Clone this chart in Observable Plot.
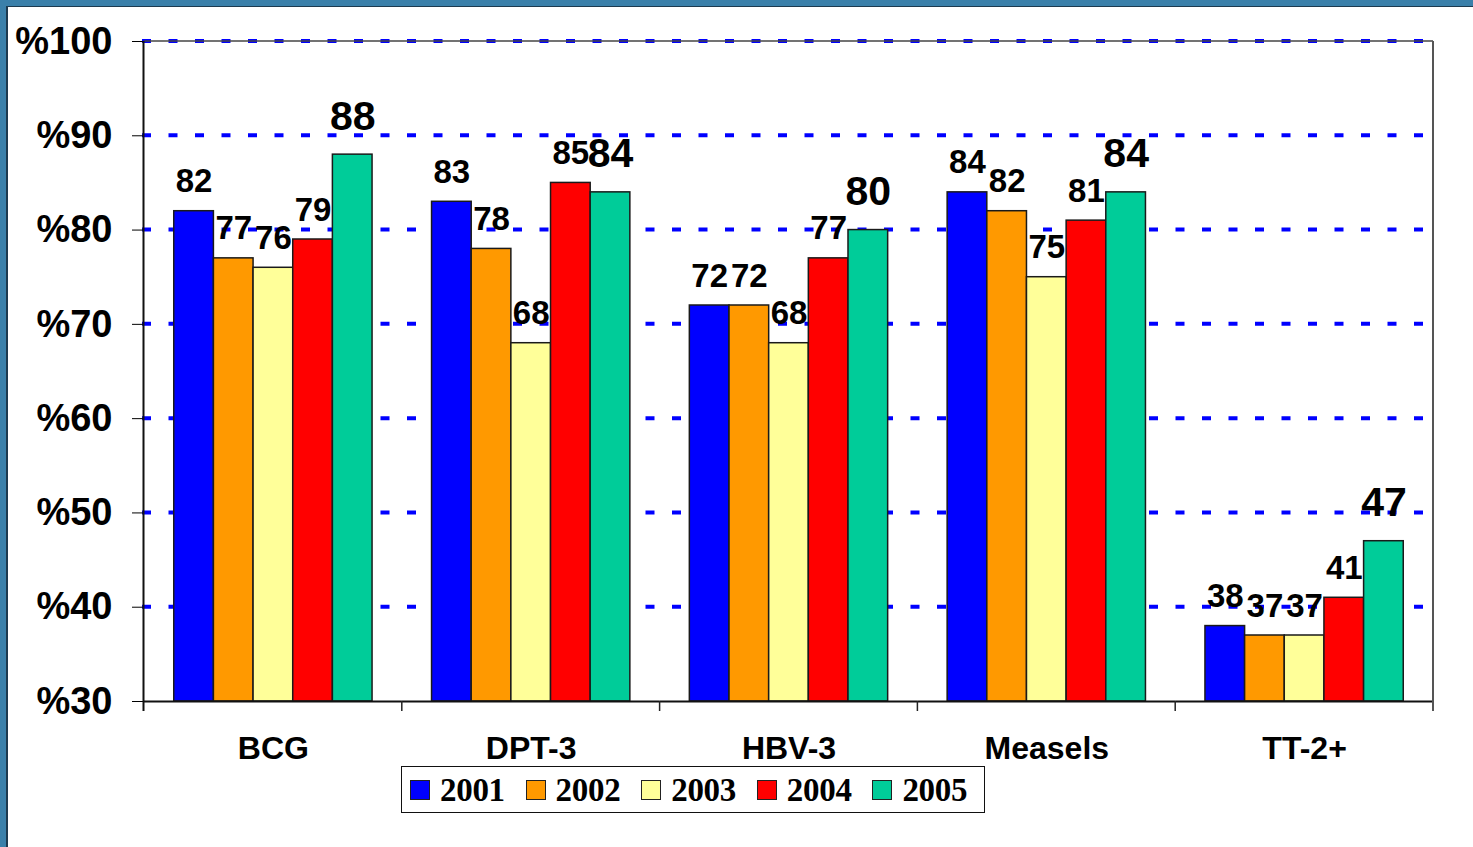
<!DOCTYPE html>
<html>
<head>
<meta charset="utf-8">
<script src="https://cdn.jsdelivr.net/npm/d3@7"></script>
<script src="https://cdn.jsdelivr.net/npm/@observablehq/plot@0.6"></script>
<style>
  html, body { margin: 0; padding: 0; width: 1473px; height: 847px; overflow: hidden; background: #3a80aa; }
  #frame { position: absolute; left: 6px; top: 6px; right: 0; bottom: 0; background: #fff;
           border-left: 2px solid #1c3a4f; border-top: 1px solid #1c3a4f; }
  #chart { position: absolute; left: 0; top: 0; width: 1473px; }
  #chart svg [aria-label^="y-axis"] text { font-size: 38px; font-weight: bold; }
  #chart svg [aria-label^="fx-axis"] text { font-size: 32px; font-weight: bold; }
  #legend { margin-left: 401px; width: 574px; height: 45px; border: 1.5px solid #111; background: #fff;
            display: flex; align-items: center; padding-left: 8px; box-sizing: content-box;
            font-family: "Liberation Serif", "Times New Roman", serif; font-weight: bold; font-size: 33px; }
  .item { display: flex; align-items: center; width: 115.6px; flex: none; }
  .sw { width: 18px; height: 18px; border: 1.5px solid #222; margin-right: 10px; flex: none; }
  .lab { line-height: 1; position: relative; top: 1px; letter-spacing: -0.3px; }
</style>
</head>
<body>
<div id="frame"></div>
<div id="chart"></div>
<script>
const categories = ["BCG", "DPT-3", "HBV-3", "Measels", "TT-2+"];
const years = ["2001", "2002", "2003", "2004", "2005"];
const colors = ["#0000ff", "#ff9900", "#ffff99", "#ff0000", "#00cc99"];
const v2001 = [82, 83, 72, 84, 38];
const v2002 = [77, 78, 72, 82, 37];
const v2003 = [76, 68, 68, 75, 37];
const v2004 = [79, 85, 77, 81, 41];
const v2005 = [88, 84, 80, 84, 47];
const yTicks = [30, 40, 50, 60, 70, 80, 90, 100];
const gridTicks = [40, 50, 60, 70, 80, 90, 100];

const series = [v2001, v2002, v2003, v2004, v2005];
const data = [];
categories.forEach((c, i) => years.forEach((yr, j) => data.push({vaccine: c, year: yr, value: series[j][i]})));

const W = 1473, H = 766, ML = 144, MR = 40, MT = 41, MB = 65;

const chart = Plot.plot({
  width: W, height: H,
  marginLeft: ML, marginRight: MR, marginTop: MT, marginBottom: MB,
  style: {background: "transparent", fontFamily: "'Liberation Sans', Arial, sans-serif", fontWeight: "bold", color: "black", overflow: "visible"},
  fx: {domain: categories, padding: 0, round: false, label: null, axis: "bottom", tickSize: 0, tickPadding: 35},
  x: {domain: years, paddingInner: 0, paddingOuter: 0.75, round: false, axis: null},
  y: {domain: [30, 100], ticks: yTicks, tickFormat: d => "%" + d, tickSize: 12, tickPadding: 20, label: null},
  color: {domain: years, range: colors},
  marks: [
    Plot.barY(data, {fx: "vaccine", x: "year", y1: 30, y2: "value", fill: "year", stroke: "#1a1a1a", strokeWidth: 1.5}),
    Plot.ruleY([30], {stroke: "#111", strokeWidth: 2}),
    Plot.text(data.filter(d => d.year !== "2005"), {fx: "vaccine", x: "year", y: "value", text: d => String(d.value),
      lineAnchor: "bottom", dy: -19, fontSize: 33, fontWeight: "bold", fill: "black"}),
    Plot.text(data.filter(d => d.year === "2005"), {fx: "vaccine", x: "year", y: "value", text: d => String(d.value),
      lineAnchor: "bottom", dy: -25, fontSize: 41, fontWeight: "bold", fill: "black"})
  ]
});

document.getElementById("chart").appendChild(chart);

// gridlines, frame and boundary ticks from the Plot scales
const svg = d3.select(chart);
const ys = chart.scale("y"), fxs = chart.scale("fx");
const left = fxs.apply(categories[0]);
const right = fxs.apply(categories[categories.length - 1]) + fxs.bandwidth;
const y0 = ys.apply(30), yTop = ys.apply(100);

const grid = svg.insert("g", "g").attr("aria-label", "grid");
grid.selectAll("line").data(gridTicks).join("line")
  .attr("x1", left - 2).attr("x2", right + 1)
  .attr("y1", d => ys.apply(d)).attr("y2", d => ys.apply(d))
  .attr("stroke", "#0000ff").attr("stroke-width", 4).attr("stroke-dasharray", "9 17.5");

const fr = svg.append("g").attr("aria-label", "frame");
fr.append("line").attr("x1", left).attr("x2", right).attr("y1", yTop).attr("y2", yTop)
  .attr("stroke", "#444").attr("stroke-width", 1.5);
fr.append("line").attr("x1", right).attr("x2", right).attr("y1", yTop).attr("y2", y0 + 10)
  .attr("stroke", "#555").attr("stroke-width", 2);
fr.append("line").attr("x1", left - 0.5).attr("x2", left - 0.5).attr("y1", yTop).attr("y2", y0 + 10)
  .attr("stroke", "#111").attr("stroke-width", 2);
fr.selectAll("line.bt").data(categories.slice(1)).join("line").attr("class", "bt")
  .attr("x1", d => fxs.apply(d)).attr("x2", d => fxs.apply(d))
  .attr("y1", y0).attr("y2", y0 + 10).attr("stroke", "#222").attr("stroke-width", 1.5);

// legend
const legend = d3.select("#chart").append("div").attr("id", "legend");
years.forEach((yr, i) => {
  const it = legend.append("div").attr("class", "item");
  it.append("div").attr("class", "sw").style("background", colors[i]);
  it.append("span").attr("class", "lab").text(yr);
});
</script>
</body>
</html>
